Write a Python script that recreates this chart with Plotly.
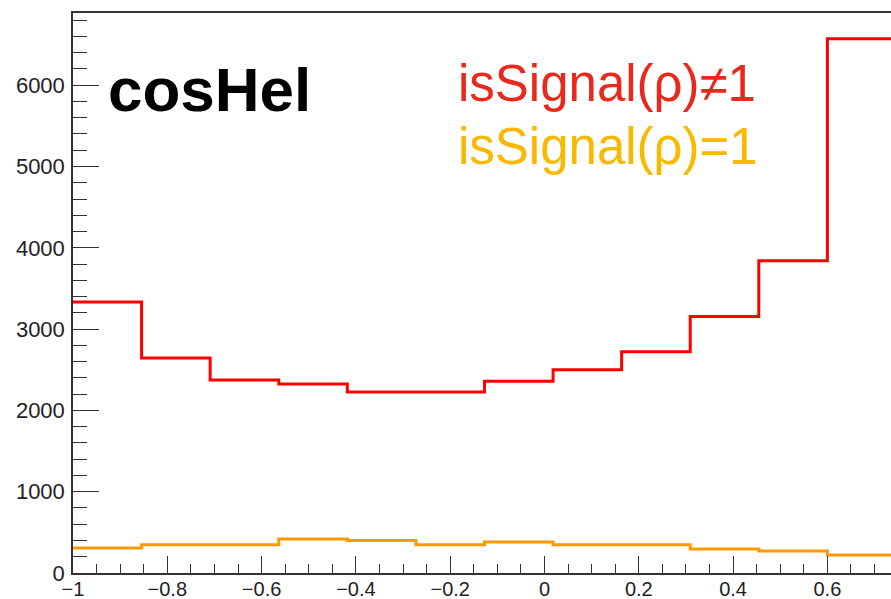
import plotly.graph_objects as go

# Bin edges of the cosHel histogram (bin width ~0.1455); the last bin runs past the visible edge
bin_edges = [-1.0, -0.8545, -0.7091, -0.5636, -0.4182, -0.2727, -0.1273,
             0.0182, 0.1636, 0.3091, 0.4545, 0.6, 0.7455]
# isSignal(rho) != 1  (red)
not_signal = [3333, 2644, 2374, 2325, 2226, 2226, 2357, 2500, 2722, 3156, 3841, 6572]
# isSignal(rho) == 1  (orange)
signal = [307, 348, 348, 418, 401, 348, 381, 348, 348, 295, 270, 221]

x_ticks = [-1, -0.8, -0.6, -0.4, -0.2, 0, 0.2, 0.4, 0.6]
x_tick_text = ["\u22121", "\u22120.8", "\u22120.6", "\u22120.4", "\u22120.2", "0", "0.2", "0.4", "0.6"]
y_ticks = [0, 1000, 2000, 3000, 4000, 5000, 6000]

FONT = "Liberation Sans, Arial, Helvetica, sans-serif"

fig = go.Figure()

def step(values):
    return bin_edges, list(values) + [values[-1]]

xs, ys = step(not_signal)
fig.add_trace(go.Scatter(x=xs, y=ys, mode="lines", line=dict(color="#ff0000", width=3, shape="hv"),
                         showlegend=False, hoverinfo="skip"))
xs, ys = step(signal)
fig.add_trace(go.Scatter(x=xs, y=ys, mode="lines", line=dict(color="#ff9900", width=3, shape="hv"),
                         showlegend=False, hoverinfo="skip"))

fig.add_annotation(text="<b>cosHel</b>", x=-0.93, y=5945, xref="x", yref="y",
                   xanchor="left", yanchor="middle", showarrow=False,
                   font=dict(family=FONT, size=62, color="#000000"))
fig.add_annotation(text="isSignal(\u03c1)\u22601", x=-0.188, y=6021, xref="x", yref="y",
                   xanchor="left", yanchor="middle", showarrow=False,
                   font=dict(family=FONT, size=51, color="#e8291c"))
fig.add_annotation(text="isSignal(\u03c1)=1", x=-0.188, y=5242, xref="x", yref="y",
                   xanchor="left", yanchor="middle", showarrow=False,
                   font=dict(family=FONT, size=51, color="#f8b900"))

fig.update_layout(
    width=891, height=599,
    margin=dict(l=73, r=0, t=13, b=26),
    paper_bgcolor="white", plot_bgcolor="white",
    xaxis=dict(range=[-1, 0.7349], tickvals=x_ticks, ticktext=x_tick_text, automargin=False,
               ticks="inside", ticklen=17, tickwidth=1.3, tickcolor="#333333",
               ticklabelstandoff=-3,
               minor=dict(dtick=0.05, tick0=0, ticks="inside", ticklen=9, tickwidth=1.3, tickcolor="#333333"),
               showline=True, linecolor="#333333", linewidth=1.5, mirror=True,
               showgrid=False, zeroline=False,
               tickfont=dict(family=FONT, size=20, color="#222222")),
    yaxis=dict(range=[0, 6888], tickvals=y_ticks, automargin=False,
               ticks="inside", ticklen=26, tickwidth=1.3, tickcolor="#333333",
               ticklabelstandoff=2,
               minor=dict(dtick=200, tick0=0, ticks="inside", ticklen=14, tickwidth=1.3, tickcolor="#333333"),
               showline=True, linecolor="#333333", linewidth=1.5,
               showgrid=False, zeroline=False,
               tickfont=dict(family=FONT, size=22, color="#222222")),
)

fig.write_html("out.html")
